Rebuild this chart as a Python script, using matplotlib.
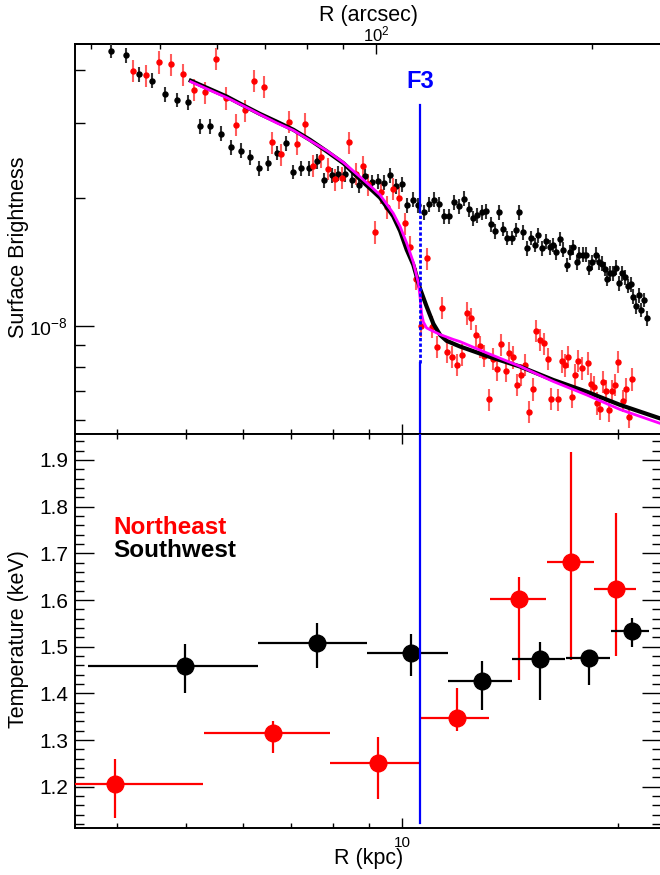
import numpy as np
import matplotlib
matplotlib.use('Agg')
from matplotlib import pyplot as plt
from matplotlib import ticker
from matplotlib import transforms

plt.rcParams['font.family'] = ['Liberation Sans', 'DejaVu Sans']
plt.rcParams['mathtext.fontset'] = 'custom'
plt.rcParams['mathtext.rm'] = 'Liberation Sans'
plt.rcParams['mathtext.it'] = 'Liberation Sans:italic'
plt.rcParams['mathtext.bf'] = 'Liberation Sans:bold'

KPC_PER_ARCSEC = 0.09194

# surface brightness, southwest (black): R in kpc, SB in units of 1e-8
sw_r = [3.93, 4.12, 4.30, 4.48, 4.67, 4.85, 5.03, 5.22, 5.40, 5.59,
        5.76, 5.95, 6.13, 6.32, 6.50, 6.69, 6.88, 7.05, 7.23, 7.41,
        7.60, 7.78, 7.97, 8.14, 8.32, 8.52, 8.70, 8.88, 9.07, 9.25,
        9.43, 9.61, 9.80, 9.98, 10.16, 10.36, 10.53, 10.72, 10.91, 11.07,
        11.26, 11.43, 11.63, 11.82, 12.00, 12.19, 12.38, 12.55, 12.72, 12.92,
        13.10, 13.28, 13.47, 13.64, 13.83, 14.01, 14.21, 14.39, 14.56, 14.75,
        14.92, 15.12, 15.31, 15.48, 15.66, 15.86, 16.05, 16.24, 16.40, 16.60,
        16.77, 16.95, 17.14, 17.32, 17.51, 17.66, 17.85, 18.04, 18.23, 18.41,
        18.61, 18.81, 18.97, 19.16, 19.32, 19.50, 19.69, 19.88, 20.07, 20.25,
        20.44, 20.62, 20.82, 21.00, 21.18, 21.36, 21.54, 21.73, 21.92]
sw_sb = [4.44, 4.33, 3.90, 3.77, 3.50, 3.40, 3.36, 2.95, 2.95, 2.83,
         2.63, 2.58, 2.49, 2.35, 2.41, 2.55, 2.69, 2.30, 2.35, 2.35,
         2.44, 2.20, 2.26, 2.28, 2.27, 2.20, 2.14, 2.25, 2.18, 2.19,
         2.17, 2.26, 2.13, 2.15, 1.92, 1.98, 1.92, 1.85, 1.93, 1.98,
         1.93, 1.81, 1.81, 1.95, 1.91, 1.99, 1.88, 1.79, 1.82, 1.85,
         1.86, 1.73, 1.67, 1.85, 1.69, 1.61, 1.61, 1.68, 1.85, 1.66,
         1.52, 1.61, 1.55, 1.63, 1.52, 1.58, 1.53, 1.55, 1.49, 1.60,
         1.51, 1.39, 1.49, 1.53, 1.41, 1.47, 1.47, 1.47, 1.37, 1.41,
         1.47, 1.41, 1.40, 1.36, 1.29, 1.33, 1.33, 1.37, 1.26, 1.33,
         1.30, 1.24, 1.25, 1.17, 1.11, 1.18, 1.09, 1.15, 1.04]
sw_rel_err = 0.04

# surface brightness, northeast (red)
ne_r = [4.21, 4.39, 4.58, 4.76, 4.94, 5.12, 5.30, 5.49, 5.67, 5.86,
        6.04, 6.22, 6.41, 6.59, 6.77, 6.95, 7.14, 7.32, 7.50, 7.70,
        7.88, 8.06, 8.24, 8.42, 8.61, 8.81, 8.97, 9.16, 9.34, 9.51,
        9.70, 9.89, 10.08, 10.25, 10.45, 10.62, 10.81, 10.99, 11.17, 11.36,
        11.55, 11.73, 11.91, 12.10, 12.29, 12.47, 12.66, 12.83, 13.01, 13.20,
        13.38, 13.57, 13.74, 13.94, 14.10, 14.28, 14.47, 14.66, 14.84, 15.02,
        15.21, 15.38, 15.56, 15.76, 15.95, 16.12, 16.49, 16.68, 16.86, 17.04,
        17.23, 17.41, 17.60, 17.79, 18.14, 18.33, 18.51, 18.69, 18.87, 19.03,
        19.24, 19.42, 19.61, 19.80, 19.97, 20.34, 20.53, 20.71, 20.89]
ne_sb = [3.98, 3.88, 4.17, 4.12, 3.90, 3.59, 3.54, 4.25, 3.43, 2.97,
         3.21, 3.77, 3.65, 2.70, 2.53, 3.02, 2.68, 2.98, 2.38, 2.50,
         2.34, 2.21, 2.23, 2.70, 2.28, 2.37, 2.15, 1.66, 2.06, 1.90,
         2.10, 2.00, 1.74, 1.53, 1.29, 1.00, 1.44, 0.995, 0.893, 1.10,
         0.869, 0.846, 0.808, 0.853, 1.07, 1.04, 0.949, 0.894, 0.849, 0.671,
         0.836, 0.790, 0.904, 0.784, 0.864, 0.843, 0.725, 0.766, 0.808, 0.628,
         0.709, 0.973, 0.926, 0.909, 0.835, 0.673, 0.671, 0.825, 0.807, 0.846,
         0.681, 0.766, 0.826, 0.794, 0.816, 0.729, 0.719, 0.657, 0.637, 0.737,
         0.702, 0.632, 0.702, 0.725, 0.821, 0.665, 0.709, 0.611, 0.748]
ne_rel_err = 0.06

# model curves
fit_r = [5.07, 5.69, 6.00, 6.33, 6.68, 7.05, 7.44, 7.85, 8.28, 8.73, 9.11,
         9.31, 9.71, 9.93, 10.14, 10.36, 10.59, 10.81, 11.05, 11.29, 11.53,
         12.04, 13.11, 14.60, 16.24, 18.08, 20.12, 22.88]
fit_sb = [3.77, 3.46, 3.30, 3.15, 3.02, 2.89, 2.735, 2.57, 2.41, 2.21, 2.07,
          2.00, 1.81, 1.67, 1.51, 1.39, 1.22, 1.11, 1.01, 0.951, 0.921,
          0.893, 0.849, 0.801, 0.745, 0.699, 0.651, 0.605]
fit2_r = [5.07, 5.69, 6.00, 6.33, 6.68, 7.05, 7.44, 7.85, 8.28, 8.73, 9.11,
          9.31, 9.71, 9.93, 10.14, 10.36, 10.53, 10.59, 10.64, 10.70, 10.81,
          10.99, 11.29, 11.78, 12.04, 13.11, 14.60, 16.24, 18.08, 20.12, 22.88]
fit2_sb = [3.75, 3.44, 3.29, 3.14, 3.00, 2.88, 2.725, 2.58, 2.42, 2.24, 2.10,
           2.03, 1.84, 1.71, 1.565, 1.41, 1.26, 1.16, 1.065, 1.02, 0.988,
           0.974, 0.953, 0.928, 0.917, 0.863, 0.802, 0.739, 0.687, 0.635, 0.589]

f3_r = 10.60

# temperature profiles
ne_t_r = [3.97, 6.61, 9.26, 11.91, 14.56, 17.19, 19.85]
ne_t_rlo = [3.30, 5.29, 7.93, 10.58, 13.25, 15.89, 18.51]
ne_t_rhi = [5.28, 7.93, 10.58, 13.22, 15.86, 18.50, 21.16]
ne_t = [1.205, 1.316, 1.250, 1.347, 1.602, 1.682, 1.624]
ne_t_lo = [1.134, 1.272, 1.173, 1.319, 1.429, 1.472, 1.479]
ne_t_hi = [1.259, 1.341, 1.307, 1.411, 1.650, 1.918, 1.786]

sw_t_r = [4.97, 7.61, 10.27, 12.90, 15.56, 18.21, 20.90]
sw_t_rlo = [3.64, 6.29, 8.94, 11.59, 14.24, 16.94, 19.52]
sw_t_rhi = [6.29, 8.92, 11.57, 14.23, 16.86, 19.49, 22.10]
sw_t = [1.459, 1.507, 1.486, 1.427, 1.474, 1.476, 1.534]
sw_t_lo = [1.401, 1.454, 1.438, 1.364, 1.386, 1.418, 1.499]
sw_t_hi = [1.505, 1.550, 1.527, 1.469, 1.511, 1.493, 1.562]

BLUE = '#0000ff'

fig = plt.figure(figsize=(6.6, 8.75), dpi=100)
ax1 = fig.add_axes([0.11364, 0.504, 0.88833, 0.44571])
ax2 = fig.add_axes([0.11364, 0.05337, 0.88833, 0.45063])

# ---- top panel: surface brightness
sw_sb_a = np.array(sw_sb) * 1e-8
ne_sb_a = np.array(ne_sb) * 1e-8
ax1.errorbar(sw_r, sw_sb_a, yerr=sw_sb_a * sw_rel_err, fmt='o', ms=3.6,
             color='black', ecolor='#333333', elinewidth=1.5, capsize=0, zorder=3)
ax1.errorbar(ne_r, ne_sb_a, yerr=ne_sb_a * ne_rel_err, fmt='o', ms=3.6,
             color='red', ecolor='#ff5c5c', elinewidth=1.5, capsize=0, zorder=3)
ax1.plot(fit_r, np.array(fit_sb) * 1e-8, color='black', lw=3, zorder=4)
ax1.plot(fit2_r, np.array(fit2_sb) * 1e-8, color='#ff00ff', lw=2, zorder=5)

ax1.axvline(f3_r, ymin=0.5692, ymax=0.8436, color=BLUE, lw=1.6, zorder=6)
ax1.axvline(f3_r, ymin=0.182, ymax=0.5692, color=BLUE, lw=2.0,
            linestyle=(0, (1.2, 0.8)), zorder=6)
ax1.axvline(f3_r, ymin=0.0, ymax=0.182, color=BLUE, lw=1.6, zorder=6)
trans = transforms.blended_transform_factory(ax1.transData, ax1.transAxes)
ax1.text(f3_r, 0.905, 'F3', transform=trans, ha='center', va='center',
         color=BLUE, fontsize=17, fontweight='bold')

ax1.set_xscale('log')
ax1.set_yscale('log')
ax1.set_xlim(3.496, 22.97)
ax1.set_ylim(5.56e-9, 4.60e-8)
ax1.xaxis.set_major_locator(ticker.FixedLocator([10]))
ax1.xaxis.set_minor_locator(ticker.FixedLocator([4, 5, 6, 7, 8, 9, 20]))
ax1.xaxis.set_major_formatter(ticker.NullFormatter())
ax1.xaxis.set_minor_formatter(ticker.NullFormatter())
ax1.yaxis.set_minor_formatter(ticker.NullFormatter())
ax1.tick_params(axis='x', which='both', direction='in', top=False, bottom=True,
                labelbottom=False)
ax1.tick_params(axis='x', which='major', length=7.2, width=1)
ax1.tick_params(axis='x', which='minor', length=3.6, width=1)
ax1.tick_params(axis='y', which='both', direction='in', left=True, right=False)
ax1.tick_params(axis='y', which='major', length=14, width=1, labelsize=14, pad=5)
ax1.tick_params(axis='y', which='minor', length=7, width=1)
ax1.set_ylabel('Surface Brightness', fontsize=15.5)
ax1.yaxis.set_label_coords(-0.078, 0.48)

secax = ax1.secondary_xaxis('top', functions=(lambda r: r / KPC_PER_ARCSEC,
                                              lambda a: a * KPC_PER_ARCSEC))
secax.xaxis.set_major_locator(ticker.FixedLocator([100]))
secax.xaxis.set_minor_locator(ticker.FixedLocator([40, 50, 60, 70, 80, 90, 200]))
secax.xaxis.set_major_formatter(ticker.FuncFormatter(
    lambda v, p: r'$10^{%d}$' % round(np.log10(v))))
secax.xaxis.set_minor_formatter(ticker.NullFormatter())
secax.tick_params(which='both', direction='in')
secax.tick_params(which='major', length=7.2, width=1, labelsize=12, pad=0)
secax.tick_params(which='minor', length=3.6, width=1)
secax.set_xlabel('R (arcsec)', fontsize=15.5, va='center')
secax.xaxis.set_label_coords(0.5, 1.074, transform=ax1.transAxes)

# ---- bottom panel: temperature
ne_xerr = [np.subtract(ne_t_r, ne_t_rlo), np.subtract(ne_t_rhi, ne_t_r)]
ne_yerr = [np.subtract(ne_t, ne_t_lo), np.subtract(ne_t_hi, ne_t)]
sw_xerr = [np.subtract(sw_t_r, sw_t_rlo), np.subtract(sw_t_rhi, sw_t_r)]
sw_yerr = [np.subtract(sw_t, sw_t_lo), np.subtract(sw_t_hi, sw_t)]
ax2.errorbar(ne_t_r, ne_t, xerr=ne_xerr, yerr=ne_yerr, fmt='o', ms=12,
             color='red', elinewidth=1.6, capsize=0, zorder=3)
ax2.errorbar(sw_t_r, sw_t, xerr=sw_xerr, yerr=sw_yerr, fmt='o', ms=12,
             color='black', elinewidth=1.6, capsize=0, zorder=4)
ax2.axvline(f3_r, ymin=0.0135, ymax=1.0, color=BLUE, lw=1.6, zorder=6)

ax2.text(0.0648, 0.7635, 'Northeast', transform=ax2.transAxes, color='red',
         fontsize=17.5, fontweight='bold', va='center', ha='left')
ax2.text(0.0648, 0.705, 'Southwest', transform=ax2.transAxes, color='black',
         fontsize=17.5, fontweight='bold', va='center', ha='left')

ax2.set_xscale('log')
ax2.set_xlim(3.496, 22.97)
ax2.set_ylim(1.1109, 1.9557)
ax2.xaxis.set_major_locator(ticker.FixedLocator([10]))
ax2.xaxis.set_minor_locator(ticker.FixedLocator([4, 5, 6, 7, 8, 9, 20]))
ax2.xaxis.set_major_formatter(ticker.FuncFormatter(lambda v, p: '%g' % v))
ax2.xaxis.set_minor_formatter(ticker.NullFormatter())
ax2.yaxis.set_major_locator(ticker.MultipleLocator(0.1))
ax2.yaxis.set_minor_locator(ticker.MultipleLocator(0.02))
ax2.yaxis.set_major_formatter(ticker.FormatStrFormatter('%.1f'))
ax2.tick_params(axis='x', which='both', direction='in', top=True, bottom=True)
ax2.tick_params(axis='x', which='major', length=7.2, width=1, labelsize=11, pad=5.5)
ax2.tick_params(axis='x', which='minor', length=3.6, width=1)
ax2.tick_params(axis='y', which='both', direction='in', left=True, right=True)
ax2.tick_params(axis='y', which='major', length=13.7, width=1, labelsize=15, pad=5)
ax2.tick_params(axis='y', which='minor', length=6.8, width=1)
ax2.set_ylabel('Temperature (keV)', fontsize=15.5)
ax2.yaxis.set_label_coords(-0.078, 0.48)
ax2.set_xlabel('R (kpc)', fontsize=15.5)
ax2.xaxis.set_label_coords(0.5, -0.050)

for ax in (ax1, ax2):
    for sp in ax.spines.values():
        sp.set_linewidth(1.4)
for sp in secax.spines.values():
    sp.set_linewidth(1.4)

fig.savefig('out.png', dpi=100)
